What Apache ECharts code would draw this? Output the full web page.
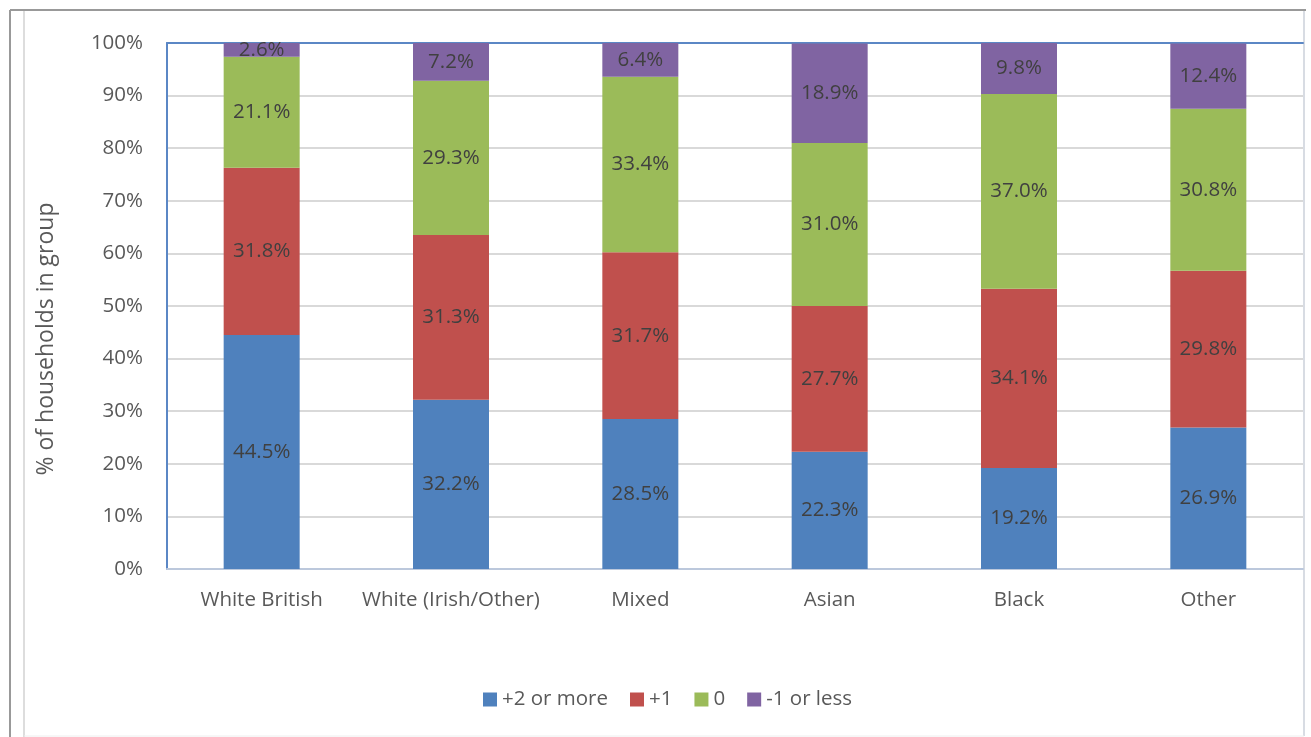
<!DOCTYPE html>
<html>
<head>
<meta charset="utf-8">
<script src="https://cdn.jsdelivr.net/npm/echarts@6/dist/echarts.min.js"></script>
<style>
html,body{margin:0;padding:0;background:#fff;}
#chart{width:1311px;height:737px;}
</style>
</head>
<body>
<div id="chart"></div>
<script>
const categories = ['White British', 'White (Irish/Other)', 'Mixed', 'Asian', 'Black', 'Other'];
const seriesNames = ['+2 or more', '+1', '0', '-1 or less'];
const plus2 = [44.5, 32.2, 28.5, 22.3, 19.2, 26.9];
const plus1 = [31.8, 31.3, 31.7, 27.7, 34.1, 29.8];
const zero = [21.1, 29.3, 33.4, 31.0, 37.0, 30.8];
const minus1 = [2.6, 7.2, 6.4, 18.9, 9.8, 12.4];
const colors = ['#4F81BD', '#C0504D', '#9BBB59', '#8064A2'];
const yTicks = [0, 10, 20, 30, 40, 50, 60, 70, 80, 90, 100];

const FONT = 'Open Sans';
const FS = 20.5;
const chart = echarts.init(document.getElementById('chart'));
const dataSets = [plus2, plus1, zero, minus1];
const series = dataSets.map((d, i) => ({
  name: seriesNames[i],
  type: 'bar',
  stack: 'total',
  barWidth: 76,
  data: d,
  itemStyle: { color: colors[i] },
  label: {
    show: true,
    position: 'inside',
    formatter: p => p.value.toFixed(1) + '%',
    color: '#404040',
    fontFamily: FONT,
    fontSize: FS
  }
}));

chart.setOption({
  animation: false,
  color: colors,
  grid: { left: 167, right: 8, top: 43, bottom: 168 },
  legend: {
    bottom: 22,
    left: 478,
    itemWidth: 14,
    itemHeight: 14,
    itemGap: 22,
    icon: 'rect',
    textStyle: { color: '#595959', fontFamily: FONT, fontSize: FS },
    data: seriesNames
  },
  xAxis: [{
    type: 'category',
    data: categories,
    axisLine: { show: true, lineStyle: { color: '#BCC8DC', width: 2 } },
    axisTick: { show: false },
    axisLabel: { color: '#595959', fontFamily: FONT, fontSize: FS, margin: 21, interval: 0 }
  }, {
    type: 'category',
    position: 'top',
    data: categories,
    axisLine: { show: true, lineStyle: { color: '#5B87C5', width: 2 } },
    axisTick: { show: false },
    axisLabel: { show: false }
  }],
  yAxis: {
    type: 'value',
    min: yTicks[0],
    max: yTicks[yTicks.length - 1],
    interval: 10,
    axisLine: { show: true, lineStyle: { color: '#5B87C5', width: 2 } },
    axisTick: { show: false },
    splitLine: { lineStyle: { color: '#D9D9D9', width: 2 } },
    axisLabel: { color: '#595959', fontFamily: FONT, fontSize: FS, margin: 24, formatter: '{value}%' }
  },
  graphic: [
    { type: 'line', shape: { x1: 10, y1: 10, x2: 10, y2: 737 }, style: { stroke: '#999999', lineWidth: 2 } },
    { type: 'line', shape: { x1: 10, y1: 10, x2: 1306, y2: 10 }, style: { stroke: '#999999', lineWidth: 2 } },
    { type: 'line', shape: { x1: 24, y1: 11, x2: 24, y2: 737 }, style: { stroke: '#DDDDDD', lineWidth: 2 } },
    { type: 'line', shape: { x1: 1304, y1: 11, x2: 1304, y2: 736 }, style: { stroke: '#D8DCE3', lineWidth: 2 } },
    { type: 'line', shape: { x1: 24, y1: 736, x2: 1304, y2: 736 }, style: { stroke: '#EEEEEE', lineWidth: 1 } },
    {
      type: 'text',
      x: 46, y: 339,
      rotation: Math.PI / 2,
      style: {
        text: '% of households in group',
        fill: '#595959',
        font: '23px "Open Sans"',
        textAlign: 'center',
        textVerticalAlign: 'middle'
      }
    }
  ],
  series: series
});
</script>
</body>
</html>
